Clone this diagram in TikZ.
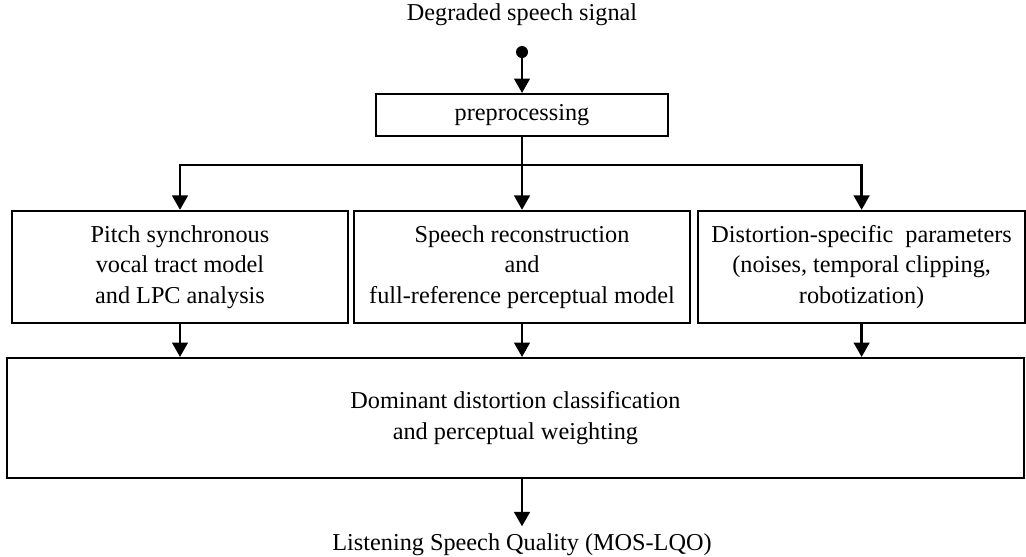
\documentclass[tikz,border=0pt]{standalone}
\usepackage{fontspec}
\setmainfont{Liberation Serif}
\usepackage{tikz}
\usetikzlibrary{calc, shapes, arrows, arrows.meta, positioning}

\tikzset{
  blok/.style={draw, line width=1pt, align=center, inner sep=2pt},
  strz/.style={-{Triangle[length=0.24cm, width=0.26cm]}, line width=1.2pt},
}

\begin{document}
\begin{tikzpicture}[font=\fontsize{11.5pt}{14.5pt}\selectfont]
\useasboundingbox (0,0) rectangle (17.1,-9.283);
\node(wej) at (8.7,-0.25) {Degraded speech signal};
\node[circle, fill, inner sep=0pt, minimum size=0.2cm](kropka) at (8.7,-0.867) {};
\node[blok, minimum width=4.87cm, minimum height=0.7cm](prep) at (8.7,-1.917) {preprocessing};
\coordinate(rozgal) at (8.7,-2.75);
\node[blok, minimum width=5.6cm, minimum height=1.87cm](pitch) at (3.0,-4.45) {Pitch synchronous\\vocal tract model\\and LPC analysis};
\node[blok, minimum width=5.6cm, minimum height=1.87cm](rekon) at (8.7,-4.45) {Speech reconstruction\\and\\full-reference perceptual model};
\node[blok, minimum width=5.45cm, minimum height=1.87cm](znieks) at (14.36,-4.45) {Distortion-specific\ \ parameters\\(noises, temporal clipping,\\robotization)};
\node[blok, minimum width=16.95cm, minimum height=2cm](waga) at (8.59,-6.967) {Dominant distortion classification\\and perceptual weighting};
\node(wyj) at (8.7,-9.08) {Listening Speech Quality (MOS-LQO)};

\path[draw, strz](kropka) -- (prep);
\path[draw, line width=1.2pt](prep) -- (rozgal);
\path[draw, strz](rozgal) -| (pitch);
\path[draw, strz](rozgal) -- (rekon);
\path[draw, strz](rozgal) -| (znieks);
\path[draw, strz](pitch) -- (pitch.south |- waga.north);
\path[draw, strz](rekon) -- (rekon.south |- waga.north);
\path[draw, strz](znieks) -- (znieks.south |- waga.north);
\path[draw, strz](waga.south -| wyj) -- (wyj);
\end{tikzpicture}
\end{document}
